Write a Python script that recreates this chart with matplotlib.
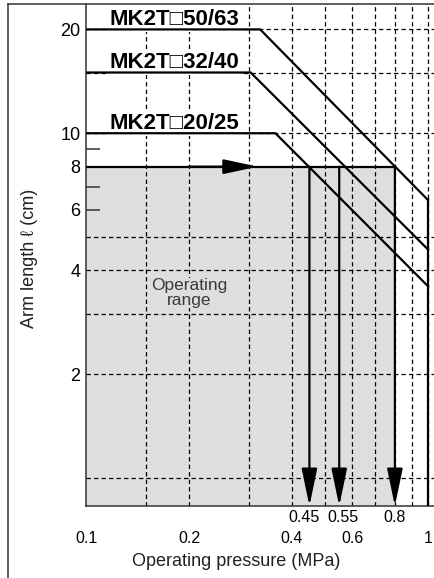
import matplotlib
matplotlib.use('Agg')
import matplotlib.pyplot as plt
from matplotlib.lines import Line2D
from matplotlib.ticker import FixedLocator, NullFormatter, NullLocator

plt.rcParams['font.family'] = ['Liberation Sans', 'DejaVu Sans']
NARROW = ['Liberation Sans Narrow', 'Liberation Sans', 'DejaVu Sans']

# curves: pressure (MPa) vs arm length (cm)
series_names = ['MK2T\u25a150/63', 'MK2T\u25a132/40', 'MK2T\u25a120/25']
series_p = [[0.1, 0.323, 1.0], [0.1, 0.303, 1.0], [0.1, 0.358, 1.0]]
series_l = [[20, 20, 6.4], [15, 15, 4.6], [10, 10, 3.6]]

# example: arm length 8 cm -> allowed pressure per size
example_length = 8
example_p = [0.45, 0.55, 0.8]
example_labels = ['0.45', '0.55', '0.8']

x_ticks = [0.1, 0.2, 0.4, 0.6, 1]
x_ticklabels = ['0.1', '0.2', '0.4', '0.6', '1']
y_ticks = [2, 4, 6, 8, 10, 20]
y_ticklabels = ['2', '4', '6', '8', '10', '20']
y_minor = [6, 7, 9]
x_grid = [0.15, 0.2, 0.3, 0.4, 0.5, 0.6, 0.7, 0.8, 0.9, 1.0]
y_grid = [1, 2, 3, 4, 5, 10, 15, 20]

x_lim = (0.1, 1.048)
y_lim = (0.83, 23.7)

W, H = 435, 578
fig = plt.figure(figsize=(W / 100, H / 100), dpi=100)
ax = fig.add_axes([86 / W, 72 / H, 349 / W, 502 / H])
ax.set_xscale('log')
ax.set_yscale('log')
ax.set_xlim(*x_lim)
ax.set_ylim(*y_lim)

# operating range
ax.fill_between([x_lim[0], example_p[-1]], y_lim[0], example_length,
                color='#dedede', lw=0, zorder=0.5)

dash = (0, (3.5, 2.5))
for x in x_grid:
    ax.axvline(x, color='k', lw=0.9, ls=dash, zorder=1)
for y in y_grid:
    ax.axhline(y, color='k', lw=0.9, ls=dash, zorder=1)

ax.text(0.2, 3.44, 'Operating\nrange', ha='center', va='center', fontsize=12.5,
        color='#3a3a3a', linespacing=1.0,
        bbox=dict(fc='#dedede', ec='none', pad=0), zorder=1.5)

# series
for name, p, l in zip(series_names, series_p, series_l):
    ax.annotate(name, xy=(0.1175, l[0]), xytext=(0, 3), textcoords='offset points',
                fontsize=16, fontweight='bold', ha='left', va='baseline',
                bbox=dict(fc='white', ec='none', pad=1.5), zorder=2)
    ax.plot(p, l, color='k', lw=1.6, zorder=3, solid_joinstyle='miter')

ax.plot([series_p[0][-1]] * 2, [y_lim[0], series_l[0][-1]], color='k', lw=1.6, zorder=3)

# 8 cm example line with arrows
ax.plot([x_lim[0], example_p[-1]], [example_length] * 2, color='k', lw=1.6, zorder=3)
ax.annotate('', xy=(0.318, example_length), xytext=(0.2, example_length),
            arrowprops=dict(arrowstyle='-|>,head_length=2.1,head_width=0.45',
                            mutation_scale=10, color='k', lw=1.6,
                            shrinkA=0, shrinkB=0), zorder=4)
offsets = [-4, 3, 0]
for p, lbl, dx in zip(example_p, example_labels, offsets):
    ax.annotate('', xy=(p, y_lim[0]), xytext=(p, example_length),
                arrowprops=dict(arrowstyle='-|>,head_length=2.3,head_width=0.48',
                                mutation_scale=10, color='k', lw=1.6,
                                shrinkA=0, shrinkB=0), zorder=4)
    ax.annotate(lbl, xy=(p, y_lim[0]), xytext=(dx, -8), textcoords='offset points',
                ha='center', va='center', fontsize=11.5, family=NARROW)

# axes
ax.xaxis.set_minor_locator(NullLocator())
ax.set_xticks(x_ticks)
ax.set_xticklabels(x_ticklabels, family=NARROW)
ax.tick_params(axis='x', length=0, pad=18, labelsize=11.5)

ax.yaxis.remove_overlapping_locs = False
ax.set_yticks(y_ticks)
ax.set_yticklabels(y_ticklabels)
ax.yaxis.set_minor_locator(FixedLocator(y_minor))
ax.yaxis.set_minor_formatter(NullFormatter())
ax.tick_params(axis='y', which='major', length=0, pad=4, labelsize=13)
ax.tick_params(axis='y', which='minor', direction='in', length=10, width=1.1, color='#333333')

for s in ['top', 'right']:
    ax.spines[s].set_visible(False)
for s in ['left', 'bottom']:
    ax.spines[s].set_color('#333333')
    ax.spines[s].set_linewidth(1.1)

# outer frame
fig.add_artist(Line2D([8 / W, 1], [574 / H] * 2, transform=fig.transFigure,
                      color='#333333', lw=1.1))
fig.add_artist(Line2D([8 / W] * 2, [0, 574 / H], transform=fig.transFigure,
                      color='#333333', lw=1.1))

fig.text(236 / W, 1 - 562 / H, 'Operating pressure (MPa)', ha='center', va='center',
         fontsize=13, color='#222222')
fig.text(30 / W, 1 - 258 / H, 'Arm length \u2113 (cm)', rotation=90, ha='center',
         va='center', fontsize=13, color='#222222')

fig.savefig('out.png', dpi=100)
